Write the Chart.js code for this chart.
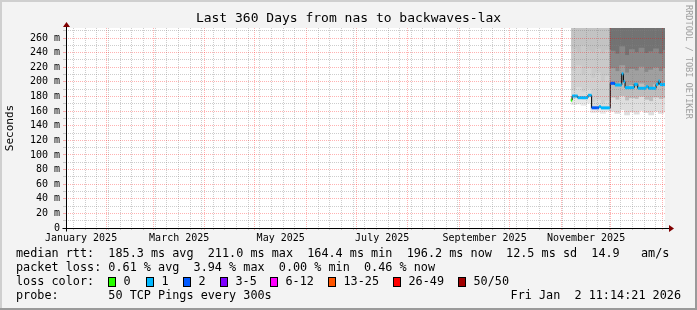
<!DOCTYPE html>
<html lang="en">
<head>
<meta charset="UTF-8">
<title>Last 360 Days from nas to backwaves-lax</title>
<script src="https://cdn.jsdelivr.net/npm/chart.js"></script>
<style>
  html, body { margin: 0; padding: 0; background: #f3f3f3; }
  #wrap { width: 697px; height: 310px; }
</style>
</head>
<body>
<div id="wrap"><canvas id="grafica" width="697" height="310"></canvas></div>
<script>
    // x values are days since the start of the 360 day window
    const endTime = Date.UTC(2026, 0, 2, 11, 14, 21);
    const startTime = endTime - 360 * 86400000;
    const dayOf = t => (t - startTime) / 86400000;

    const monthLabels = ['January 2025', 'March 2025', 'May 2025', 'July 2025', 'September 2025', 'November 2025'];
    const labelMonths = [0, 2, 4, 6, 8, 10];
    const yTicks = Array.from({ length: 28 }, (_, i) => i * 10);
    const yMax = 273.7;

    // median rtt (ms), step starts in days, loss level index
    const medDays = [303.4, 304.2, 307.5, 313.7, 315.9, 320.3, 321.5, 327.1, 329.9, 334.0, 335.0, 336.0, 341.5, 343.6, 348.6, 350.0, 354.6, 356.0, 357.0];
    const medRtt  = [175.0, 180.6, 178.3, 181.6, 164.5, 166.0, 164.4, 198.0, 195.7, 211.0, 200.2, 192.0, 196.6, 191.2, 193.4, 191.2, 196.6, 201.0, 196.2];
    const medLoss = [0, 1, 1, 1, 2, 1, 1, 2, 1, 1, 1, 1, 1, 1, 1, 1, 1, 1, 1];
    const medEnd = 360.6;

    // smoke: ping spread per bucket (ms)
    const smokeDays = [305.3, 308.2, 311.1, 314.0, 316.9, 319.8, 322.7, 325.6, 328.5, 331.4, 334.3, 337.2, 340.1, 343.0, 345.9, 348.8, 351.7, 354.6, 357.5, 360.4];
    const smokeLo = [169, 170, 168, 171, 158, 159, 157, 160, 160, 157, 162, 155, 159, 156, 161, 158, 155, 160, 157, 159];
    const smokeQ1 = [176, 177, 175, 178, 163, 164, 162, 163, 178, 175, 180, 174, 177, 176, 179, 175, 173, 178, 176, 177];
    const smokeQ2 = [188, 192, 186, 190, 172, 175, 170, 174, 196, 194, 199, 192, 195, 193, 197, 194, 192, 196, 195, 196];
    const smokeQ3 = [215, 222, 210, 218, 205, 212, 200, 208, 218, 214, 222, 212, 217, 215, 220, 213, 216, 219, 214, 218];
    const smokeQ4 = [245, 240, 250, 242, 240, 245, 238, 243, 242, 238, 248, 236, 244, 240, 246, 239, 241, 245, 238, 243];
    const smokeTop = 290;
    const smokeSplit = 327.05;

    const lossLabels = ['0', '1', '2', '3-5', '6-12', '13-25', '26-49', '50/50'];
    const lossColors = ['#26ff00', '#00b8ff', '#0059ff', '#7e00ff', '#ff00ff', '#ff5500', '#ff0000', '#a10000'];

    const legendLines = [
        'median rtt:  185.3 ms avg  211.0 ms max  164.4 ms min  196.2 ms now  12.5 ms sd  14.9   am/s',
        'packet loss: 0.61 % avg  3.94 % max  0.00 % min  0.46 % now',
        'loss color:',
        'probe:       50 TCP Pings every 300s'
    ];
    const stampText = 'Fri Jan  2 11:14:21 2026';

    const mono = "'DejaVu Sans Mono', monospace";
    const majorCol = 'rgba(255, 0, 0, 0.3)';
    const minorCol = 'rgba(130, 130, 130, 0.4)';
    const smokeLight = ['#e9e9e9', '#dadada', '#d0d0d0', '#c9c9c9', '#c3c3c3'];
    const smokeDark = ['#dedede', '#bdbdbd', '#a0a0a0', '#888888', '#737373'];

    // grid positions: month starts (major) and sundays (minor)
    const gridTicks = [];
    for (let m = 1; m <= 12; m++) {
        gridTicks.push({ value: dayOf(Date.UTC(2025, m, 1)), major: true });
    }
    for (let t = Date.UTC(2025, 0, 12); t < endTime; t += 7 * 86400000) {
        const d = dayOf(t);
        if (!gridTicks.some(g => Math.abs(g.value - d) < 0.01)) gridTicks.push({ value: d, major: false });
    }
    gridTicks.sort((a, b) => a.value - b.value);
    const labelTicks = labelMonths.map(m => ({ value: (dayOf(Date.UTC(2025, m, 1)) + dayOf(Date.UTC(2025, m + 1, 1))) / 2 }));

    // data for the library
    const bands = [smokeLo, smokeQ1, smokeQ2, smokeQ3, smokeQ4, null];
    const smokeSets = [];
    for (let j = 0; j < 5; j++) {
        const hi = bands[j + 1];
        smokeSets.push({
            type: 'bar',
            order: 3,
            grouped: false,
            xAxisID: 'xs',
            yAxisID: 'y',
            barPercentage: 1,
            categoryPercentage: 1,
            borderWidth: 0,
            inflateAmount: 0.5,
            data: smokeDays.map((d, i) => ({ x: d, y: [bands[j][i], hi ? hi[i] : smokeTop] })),
            backgroundColor: ctx => (ctx.raw && ctx.raw.x < smokeSplit ? smokeLight[j] : smokeDark[j])
        });
    }

    const medLine = medDays.map((d, i) => ({ x: d, y: medRtt[i] }));
    medLine.push({ x: medEnd, y: medRtt[medRtt.length - 1] });

    const medPieces = [];
    medDays.forEach((d, i) => {
        const next = i + 1 < medDays.length ? medDays[i + 1] : medEnd;
        medPieces.push({ x: d, y: medRtt[i] }, { x: next, y: medRtt[i] }, { x: next, y: null });
    });

    const framePlugin = {
        id: 'frame',
        beforeDraw(chart) {
            const c = chart.ctx;
            const a = chart.chartArea;
            c.save();
            c.fillStyle = '#f3f3f3';
            c.fillRect(0, 0, chart.width, chart.height);
            c.fillStyle = '#ffffff';
            c.fillRect(a.left, a.top, a.right - a.left, a.bottom - a.top);
            c.fillStyle = '#cfcfcf';
            c.fillRect(0, 0, chart.width, 2);
            c.fillRect(0, 0, 2, chart.height);
            c.fillStyle = '#9a9a9a';
            c.fillRect(0, chart.height - 2, chart.width, 2);
            c.fillRect(chart.width - 2, 0, 2, chart.height);
            c.restore();
        },
        afterDraw(chart) {
            const c = chart.ctx;
            const a = chart.chartArea;
            const y0 = Math.round(chart.scales.y.getPixelForValue(0)) + 0.5;
            const x0 = Math.round(a.left) + 0.5;
            c.save();
            // axes
            c.strokeStyle = '#000';
            c.lineWidth = 1;
            c.beginPath();
            c.moveTo(x0 - 4, y0);
            c.lineTo(a.right + 6, y0);
            c.moveTo(x0, y0 + 3);
            c.lineTo(x0, a.top - 2);
            c.stroke();
            c.fillStyle = '#800000';
            c.beginPath();
            c.moveTo(a.right + 4, y0 - 3.5);
            c.lineTo(a.right + 9, y0);
            c.lineTo(a.right + 4, y0 + 3.5);
            c.closePath();
            c.fill();
            c.beginPath();
            c.moveTo(x0 - 3.5, a.top - 1);
            c.lineTo(x0, a.top - 6);
            c.lineTo(x0 + 3.5, a.top - 1);
            c.closePath();
            c.fill();

            // legend
            c.font = '11.8px ' + mono;
            c.fillStyle = '#000';
            c.textBaseline = 'middle';
            c.textAlign = 'left';
            const rows = [254.3, 268.3, 282, 296];
            legendLines.forEach((t, i) => c.fillText(t, 16, rows[i]));
            c.textAlign = 'right';
            c.fillText(stampText, 681, rows[3]);
            c.textAlign = 'left';
            const boxX = [108, 145.5, 182.5, 219.5, 270, 328, 393, 458];
            lossLabels.forEach((lab, i) => {
                const bx = Math.round(boxX[i]);
                c.fillStyle = lossColors[i];
                c.fillRect(bx, 277, 8, 10);
                c.strokeStyle = '#000';
                c.strokeRect(bx + 0.5, 277.5, 7, 9);
                c.fillStyle = '#000';
                c.fillText(lab, bx + 15.5, rows[2]);
            });

            // watermark
            c.font = '8.6px ' + mono;
            c.fillStyle = '#a0a0a0';
            c.translate(688.5, 5);
            c.rotate(Math.PI / 2);
            c.textBaseline = 'middle';
            c.fillText('RRDTOOL / TOBI OETIKER', 0, 0);
            c.restore();
        }
    };

    new Chart(document.getElementById('grafica'), {
        data: {
            datasets: [
                {
                    type: 'line',
                    order: 1,
                    xAxisID: 'x',
                    yAxisID: 'y',
                    data: medPieces,
                    borderWidth: 3,
                    borderColor: lossColors[1],
                    borderCapStyle: 'butt',
                    pointRadius: 0,
                    spanGaps: false,
                    segment: {
                        borderColor: ctx => lossColors[medLoss[Math.floor(ctx.p0DataIndex / 3)]]
                    }
                },
                {
                    type: 'line',
                    order: 2,
                    xAxisID: 'x',
                    yAxisID: 'y',
                    data: medLine,
                    stepped: true,
                    borderWidth: 1,
                    borderColor: '#000',
                    pointRadius: 0
                },
                ...smokeSets
            ]
        },
        options: {
            responsive: false,
            devicePixelRatio: 1,
            animation: false,
            events: [],
            layout: { padding: 0 },
            plugins: {
                legend: { display: false },
                tooltip: { enabled: false },
                title: {
                    display: true,
                    text: 'Last 360 Days from nas to backwaves-lax',
                    color: '#000',
                    font: { family: mono, size: 13, weight: 'normal' },
                    padding: { top: 11, bottom: 1.4 }
                }
            },
            scales: {
                x: {
                    type: 'linear',
                    position: 'bottom',
                    min: 0,
                    max: 360,
                    offset: false,
                    weight: 0,
                    afterBuildTicks: s => { s.ticks = gridTicks.map(g => ({ value: g.value, major: g.major })); },
                    afterFit: s => { s.height = 0; },
                    ticks: { display: false, autoSkip: false },
                    grid: {
                        z: 1,
                        offset: false,
                        color: ctx => (ctx.tick && ctx.tick.major ? majorCol : minorCol),
                        tickLength: 2
                    },
                    border: { display: false, dash: [1, 1] }
                },
                xs: {
                    type: 'linear',
                    position: 'bottom',
                    display: false,
                    min: 0,
                    max: 360,
                    offset: false
                },
                xLabels: {
                    type: 'linear',
                    position: 'bottom',
                    min: 0,
                    max: 360,
                    offset: false,
                    weight: 1,
                    afterBuildTicks: s => { s.ticks = labelTicks.map(t => ({ value: t.value })); },
                    afterFit: s => { s.height = 82; },
                    grid: { display: false, drawTicks: false },
                    border: { display: false },
                    ticks: {
                        autoSkip: false,
                        maxRotation: 0,
                        padding: 4,
                        color: '#000',
                        font: { family: mono, size: 10 },
                        callback: (v, i) => monthLabels[i]
                    }
                },
                y: {
                    type: 'linear',
                    position: 'left',
                    min: 0,
                    max: yMax,
                    afterBuildTicks: s => { s.ticks = yTicks.map(v => ({ value: v })); },
                    afterFit: s => { s.width = 66; },
                    title: {
                        display: true,
                        text: 'Seconds',
                        color: '#000',
                        font: { family: mono, size: 11 },
                        padding: { top: 4, bottom: 0 }
                    },
                    ticks: {
                        autoSkip: false,
                        padding: 3,
                        color: '#000',
                        font: { family: mono, size: 10 },
                        callback: v => (v % 20 === 0 ? (v === 0 ? '0' : v + ' m') : '')
                    },
                    grid: {
                        z: 1,
                        color: ctx => (ctx.tick && ctx.tick.value % 20 === 0 ? majorCol : minorCol),
                        tickLength: 3
                    },
                    border: { display: false, dash: [1, 1] }
                },
                yRight: {
                    type: 'linear',
                    position: 'right',
                    afterFit: s => { s.width = 32; },
                    grid: { display: false, drawTicks: false },
                    border: { display: false },
                    ticks: { display: false }
                }
            }
        },
        plugins: [framePlugin]
    });
</script>
</body>
</html>
